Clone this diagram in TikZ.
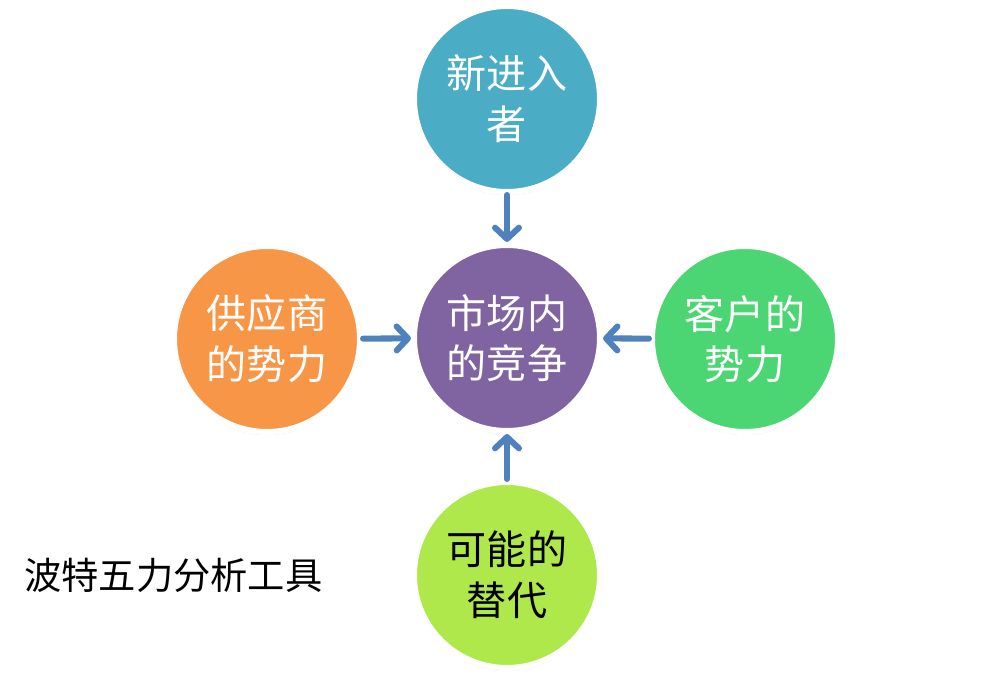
\documentclass[tikz,border=0pt]{standalone}
\usepackage{fontspec}
\newfontfamily\cjk{Noto Sans CJK SC}
\usetikzlibrary{arrows.meta,shadows}

\definecolor{aquaC}{HTML}{4BACC6}
\definecolor{purpleC}{HTML}{8064A2}
\definecolor{orangeC}{HTML}{F79646}
\definecolor{greenC}{HTML}{4BD673}
\definecolor{limeC}{HTML}{AEE84A}
\definecolor{arrowC}{HTML}{4F81BD}

\tikzset{
  force/.style={circle, draw=white, line width=4.3pt, minimum size=4.65cm, inner sep=0pt,
    align=center, text=white, font=\cjk\fontsize{28.5}{36}\selectfont,
    drop shadow={opacity=0.25, shadow xshift=0pt, shadow yshift=-1.5pt, shadow scale=1.01}},
  push/.style={draw=arrowC, line width=4.3pt, line cap=round,
    -{Straight Barb[length=8pt, width=17pt, line cap=round, line join=round]}}
}

\begin{document}
\begin{tikzpicture}[x=0.025cm, y=-0.025cm]
    \useasboundingbox (0,0) rectangle (1007,681);

    % five forces
    \node[force, fill=aquaC]   (entrant)  at (507,99) {新进入\\者};
    \node[force, fill=purpleC] (market)   at (507,338) {市场内\\的竞争};
    \node[force, fill=orangeC] (supplier) at (267,339) {供应商\\的势力};
    \node[force, fill=greenC]  (customer) at (745,339) {客户的\\势力};
    \node[force, fill=limeC, text=black] (substitute) at (507,575) {可能的\\替代};

    % pressure on the market
    \draw[push] (entrant) -- (market);
    \draw[push] (supplier) -- (market);
    \draw[push] (customer) -- (market);
    \draw[push] (substitute) -- (market);

    % title
    \node[anchor=west, inner sep=0pt, font=\cjk\fontsize{26.5}{30}\selectfont] (title) at (24,575) {波特五力分析工具};
\end{tikzpicture}
\end{document}
